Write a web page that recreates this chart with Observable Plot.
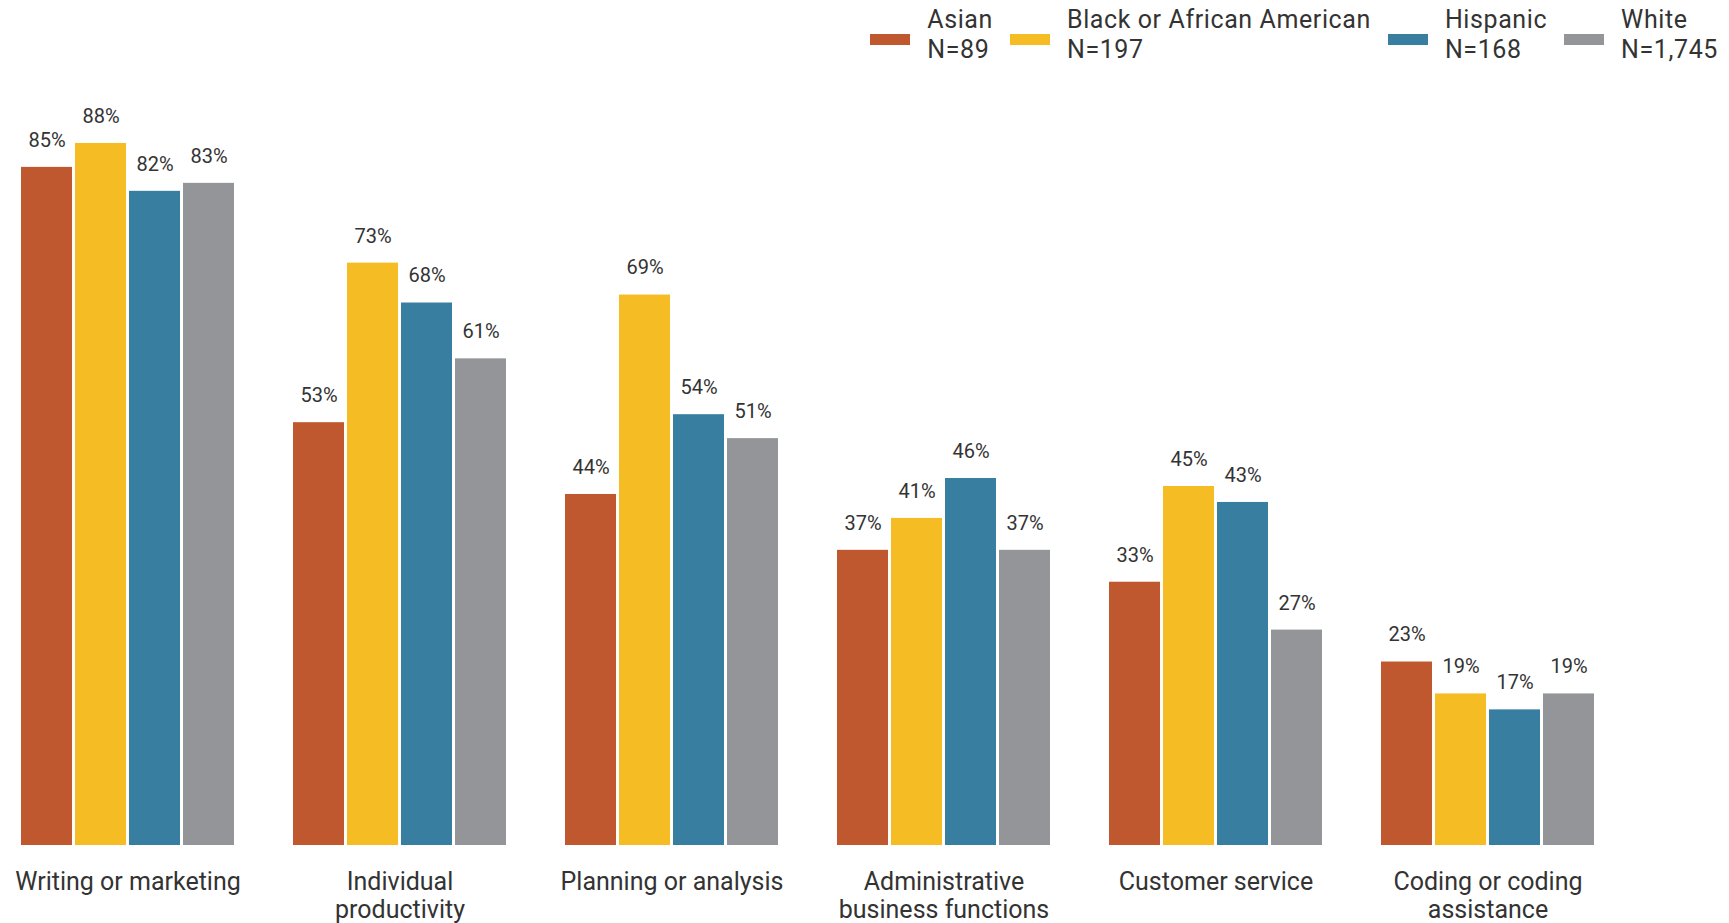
<!DOCTYPE html>
<html>
<head>
<meta charset="utf-8">
<script src="https://cdn.jsdelivr.net/npm/d3@7"></script>
<script src="https://cdn.jsdelivr.net/npm/@observablehq/plot@0.6"></script>
<style>
  html, body { margin: 0; padding: 0; background: #fff; overflow: hidden; }
  #legend { height: 62px; box-sizing: border-box; padding-top: 5px; padding-right: 11px;
    display: flex; justify-content: flex-end; font-family: Roboto, sans-serif; font-size: 25px; line-height: 29.5px;
    letter-spacing: 0.6px; color: #333; }
  .item { display: flex; align-items: flex-start; margin-left: 17px; }
  .sw { width: 40px; height: 11px; margin-top: 29px; margin-right: 17px; }
</style>
</head>
<body>
<div id="legend"></div>
<div id="chart"></div>
<script>
const categories = ["Writing or marketing", "Individual productivity", "Planning or analysis",
  "Administrative business functions", "Customer service", "Coding or coding assistance"];
const tickLabels = ["Writing or marketing", "Individual\nproductivity", "Planning or analysis",
  "Administrative\nbusiness functions", "Customer service", "Coding or coding\nassistance"];
const groups = ["Asian", "Black or African American", "Hispanic", "White"];
const groupN = ["N=89", "N=197", "N=168", "N=1,745"];
const colors = ["#C0582F", "#F5BD23", "#377EA0", "#939598"];

const asian    = [85, 53, 44, 37, 33, 23];
const black    = [88, 73, 69, 41, 45, 19];
const hispanic = [82, 68, 54, 46, 43, 17];
const white    = [83, 61, 51, 37, 27, 19];

const series = [asian, black, hispanic, white];
const data = [];
categories.forEach((c, i) => {
  groups.forEach((g, j) => data.push({category: c, group: g, value: series[j][i]}));
});

// legend
const legend = document.getElementById("legend");
groups.forEach((g, j) => {
  const it = document.createElement("div");
  it.className = "item";
  it.innerHTML = `<div class="sw" style="background:${colors[j]}"></div><div>${g}<br>${groupN[j]}</div>`;
  legend.appendChild(it);
});

const labelMap = new Map(categories.map((c, i) => [c, tickLabels[i]]));

const chart = Plot.plot({
  width: 1729,
  height: 861,
  marginLeft: 18,
  marginRight: 133,
  marginTop: 65,
  marginBottom: 78,
  style: {fontFamily: "Roboto, sans-serif", color: "#333", background: "#fff"},
  fx: {domain: categories, paddingInner: 0.21, paddingOuter: 0, label: null},
  x: {domain: groups, paddingInner: 0.05, paddingOuter: 0, axis: null},
  y: {domain: [0, 90], axis: null},
  color: {domain: groups, range: colors},
  marks: [
    Plot.barY(data, {fx: "category", x: "group", y: "value", fill: "group"}),
    Plot.text(data, {fx: "category", x: "group", y: "value", text: d => d.value + "%",
      lineAnchor: "middle", dy: -27, fontSize: 20, fill: "#333"}),
    Plot.axisFx({anchor: "bottom", tickSize: 0, tickPadding: 25, fontSize: 25, lineHeight: 1.12,
      tickFormat: d => labelMap.get(d), fill: "#333", label: null})
  ]
});
document.getElementById("chart").appendChild(chart);
</script>
</body>
</html>
